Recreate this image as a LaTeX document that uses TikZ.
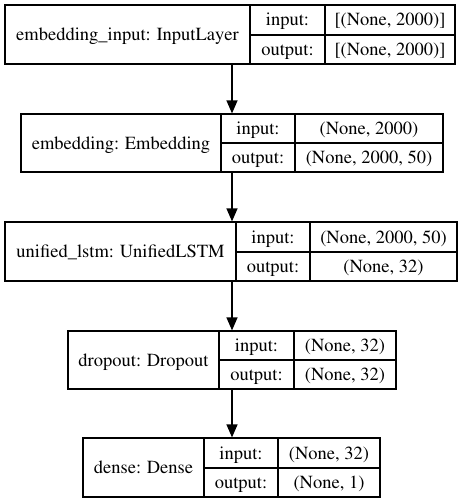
\documentclass[tikz,border=0pt]{standalone}
\usepackage[T1]{fontenc}
\usepackage{mathptmx}
\usetikzlibrary{arrows.meta}
\tikzset{
  cell/.style={inner sep=0pt, text height=12pt, text depth=0pt, font=\fontsize{18.5}{20}\selectfont},
  frame/.style={draw, line width=1.2pt, inner sep=0pt},
  arr/.style={line width=1.2pt, -{Triangle[length=13pt,width=11pt]}}
}
\begin{document}
\begin{tikzpicture}[x=1pt,y=-1pt]
\useasboundingbox (0,0) rectangle (464,503);
\coordinate (ax) at (232,0);

% one record per layer: frame, title cell, label cells, shape cells
\foreach \id/\xa/\xb/\xc/\xd/\ya/\ym/\yb/\ttl/\vin/\vout in {
  1/5/250/325/455/5/35/64/{embedding\_input: InputLayer}/{[(None, 2000)]}/{[(None, 2000)]},
  2/21/221/295/443/114/143/172/{embedding: Embedding}/{(None, 2000)}/{(None, 2000, 50)},
  3/5/236/310/457/222/252/281/{unified\_lstm: UnifiedLSTM}/{(None, 2000, 50)}/{(None, 32)},
  4/68/219/294/396/331/360/389/{dropout: Dropout}/{(None, 32)}/{(None, 32)},
  5/83/204/278/380/438/468/497/{dense: Dense}/{(None, 32)}/{(None, 1)}}
{
  \pgfmathsetmacro\boxw{\xd-\xa}
  \pgfmathsetmacro\boxh{\yb-\ya}
  \node[frame, minimum width=\boxw pt, minimum height=\boxh pt] (L\id) at ({(\xa+\xd)/2},{(\ya+\yb)/2}) {};
  \draw[line width=1.2pt] (\xb,\ya) -- (\xb,\yb) (\xc,\ya) -- (\xc,\yb) (\xb,\ym) -- (\xd,\ym);
  \node[cell] (T\id) at ({(\xa+\xb)/2},{(\ya+\yb)/2}) {\ttl};
  \node[cell] (I\id) at ({(\xb+\xc)/2},{(\ya+\ym)/2}) {input:};
  \node[cell] (O\id) at ({(\xb+\xc)/2},{(\ym+\yb)/2}) {output:};
  \node[cell] (VI\id) at ({(\xc+\xd)/2},{(\ya+\ym)/2}) {\vin};
  \node[cell] (VO\id) at ({(\xc+\xd)/2},{(\ym+\yb)/2}) {\vout};
}

% connectors
\foreach \a/\b in {1/2,2/3,3/4,4/5}
  \draw[arr] (L\a.south -| ax) -- (L\b.north -| ax);
\end{tikzpicture}
\end{document}
